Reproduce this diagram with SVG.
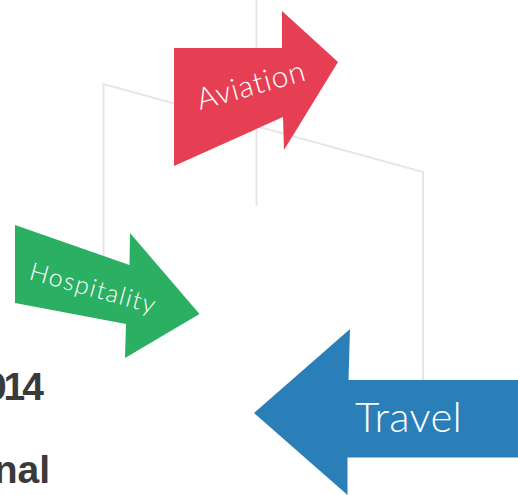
<svg xmlns="http://www.w3.org/2000/svg" width="518" height="495" viewBox="0 0 518 495">
<style>
.ln{fill:none;stroke:#e6e6e6;stroke-width:2}
.lbl{font-family:Lato,"Open Sans",sans-serif;font-weight:300;fill:#ffffff}
.side{font-family:"Liberation Sans",Arial,sans-serif;font-weight:bold;fill:#3a3a3a;font-size:39px}
</style>
<rect width="518" height="495" fill="#ffffff"/>
<g id="connectors">
<line class="ln" x1="256.5" y1="0" x2="256.5" y2="206"/>
<polyline class="ln" points="103.5,320 103.5,84 423,172 423,400"/>
</g>
<g id="aviation">
<polygon fill="#e63e52" points="174,48 282,48 282,11 338,62 284,150 283,117 174,166"/>
<text class="lbl" font-size="30" letter-spacing="0.9" transform="translate(200,110) rotate(-15.6)">Aviation</text>
</g>
<g id="hospitality">
<polygon fill="#2aaf63" points="15,225 129.5,265 130,233 199.5,314 125,358 126,324 15,303"/>
<text class="lbl" font-size="25" letter-spacing="1.4" transform="translate(28,279) rotate(15.5)">Hospitality</text>
</g>
<g id="travel">
<polygon fill="#2a7fb8" points="254,413 350,329 348.5,380 518,380 518,457.5 347.5,457.5 347.5,495"/>
<text class="lbl" font-size="42" letter-spacing="0.3" x="355" y="432">Travel</text>
</g>
<g id="side-text">
<text class="side" x="41" y="400" text-anchor="end" letter-spacing="-3">014</text>
<text class="side" x="50" y="483" text-anchor="end">nal</text>
</g>
</svg>
